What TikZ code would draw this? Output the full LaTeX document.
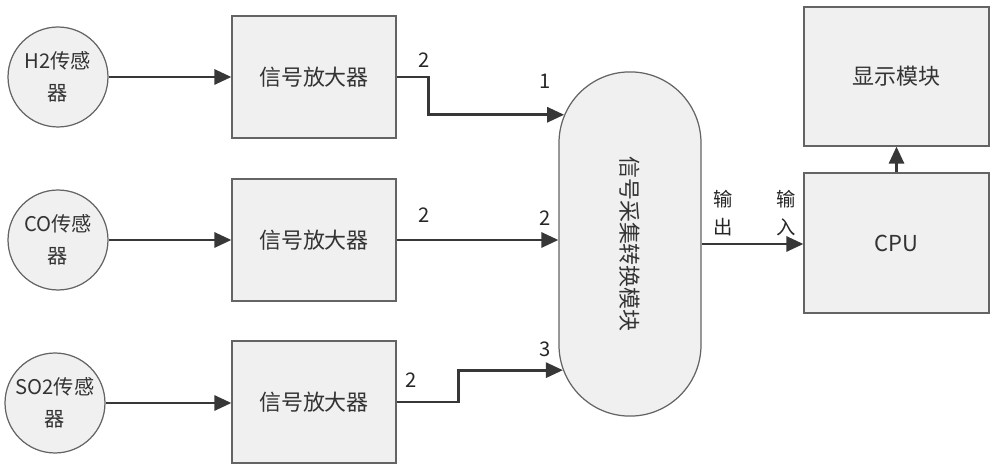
\documentclass[tikz,border=0pt]{standalone}
\usepackage{fontspec}
\setmainfont{Noto Sans CJK SC}
\usetikzlibrary{arrows.meta,shapes.misc}
\definecolor{LineGray}{RGB}{55,55,55}
\definecolor{EdgeGray}{RGB}{100,100,100}
\definecolor{FillGray}{RGB}{240,240,240}

\begin{document}
\begin{tikzpicture}[x=0.02cm,y=-0.02cm,
  sensor/.style={circle,draw=EdgeGray,fill=FillGray,line width=0.7pt,minimum size=2cm,inner sep=0pt,align=center,font=\fontsize{11.5}{18}\selectfont,text=black!80},
  block/.style={rectangle,draw=EdgeGray,fill=FillGray,line width=0.7pt,minimum width=3.28cm,minimum height=2.44cm,font=\fontsize{12.5}{15}\selectfont,text=black!80},
  capsule/.style={rounded rectangle,rotate=-90,draw=EdgeGray,fill=FillGray,line width=0.7pt,minimum width=7.12cm,minimum height=2.84cm,font=\fontsize{12.5}{15}\selectfont,text=black!80},
  arrow/.style={-{Triangle[length=3.4mm,width=3mm]},line width=1.6pt,LineGray},
  num/.style={font=\fontsize{11.5}{13}\selectfont,text=black!85},
  io/.style={align=center,font=\fontsize{11}{16}\selectfont,text=black!85}
]
  \useasboundingbox (0,0) rectangle (1000,475);
  \node[sensor] (h2) at (58,77) {H2传感\\器};
  \node[sensor] (co) at (58,240) {CO传感\\器};
  \node[sensor] (so2) at (55,403) {SO2传感\\器};
  \node[block] (amp1) at (314,77) {信号放大器};
  \node[block] (amp2) at (314,240) {信号放大器};
  \node[block] (amp3) at (314,402) {信号放大器};
  \node[capsule] (acq) at (630,244) {信号采集转换模块};
  \node[block,minimum width=3.7cm,minimum height=2.78cm] (disp) at (896.5,76.5) {显示模块};
  \node[block,minimum width=3.7cm,minimum height=2.8cm] (cpu) at (896.5,243) {CPU};
  \draw[arrow] (h2.east) -- (amp1.west);
  \draw[arrow] (co.east) -- (amp2.west);
  \draw[arrow] (so2.east) -- (so2.east -| amp3.west);
  \draw[arrow] (amp1.east) -- ++(32,0) |- (acq.207);
  \draw[arrow] (amp2.east) -- (amp2.east -| acq.south);
  \draw[arrow] (amp3.east) -- ++(62,0) |- (acq.332);
  \draw[arrow] (acq.north) -- (acq.north -| cpu.west);
  \draw[arrow] (cpu.north) -- (disp.south);
  \node[num] (n1a) at (424,60) {2};
  \node[num] (n1b) at (545,81) {1};
  \node[num] (n2a) at (424,215) {2};
  \node[num] (n2b) at (545,218) {2};
  \node[num] (n3a) at (411,380) {2};
  \node[num] (n3b) at (545,349) {3};
  \node[io] (outl) at (723,213) {输\\出};
  \node[io] (inl) at (786,213) {输\\入};
\end{tikzpicture}
\end{document}
